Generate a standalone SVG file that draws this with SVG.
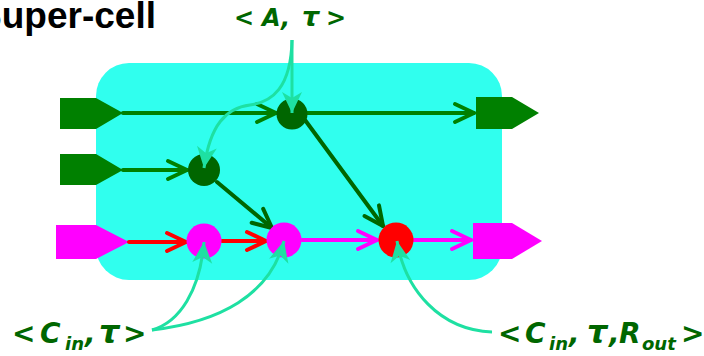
<svg xmlns="http://www.w3.org/2000/svg" width="704" height="356" viewBox="0 0 704 356">
<defs>
<style>
.title{font-family:"Liberation Sans",Arial,sans-serif;font-weight:bold;font-size:37px;fill:#000}
.lbl{font-family:"DejaVu Sans","Liberation Sans",sans-serif;font-weight:bold;font-style:italic;fill:#006600}
.sub{font-size:18px}
.tau{font-size:32px}
.ln{fill:none;stroke-width:4;stroke-linecap:round}
.g{stroke:#008000}
.dg{stroke:#006600}
.r{stroke:#ff0000}
.m{stroke:#ff00ff}
.ann{fill:none;stroke:#1ee0a2;stroke-width:3}
.portG{fill:#008000}
.portM{fill:#ff00ff}
.nodeG{fill:#006600}
.nodeM{fill:#ff00ff}
.nodeR{fill:#ff0000}
</style>
<marker id="vG" viewBox="-24 -14 28 28" markerWidth="28" markerHeight="28" refX="0" refY="0" orient="auto" markerUnits="userSpaceOnUse"><path d="M-19,-9 L0,0 L-19,9" fill="none" stroke="#008000" stroke-width="4" stroke-linecap="round" stroke-linejoin="round"/></marker>
<marker id="vDG" viewBox="-24 -14 28 28" markerWidth="28" markerHeight="28" refX="0" refY="0" orient="auto" markerUnits="userSpaceOnUse"><path d="M-19,-9 L0,0 L-19,9" fill="none" stroke="#006600" stroke-width="4" stroke-linecap="round" stroke-linejoin="round"/></marker>
<marker id="vR" viewBox="-24 -14 28 28" markerWidth="28" markerHeight="28" refX="0" refY="0" orient="auto" markerUnits="userSpaceOnUse"><path d="M-19,-9 L0,0 L-19,9" fill="none" stroke="#ff0000" stroke-width="4" stroke-linecap="round" stroke-linejoin="round"/></marker>
<marker id="vM" viewBox="-24 -14 28 28" markerWidth="28" markerHeight="28" refX="0" refY="0" orient="auto" markerUnits="userSpaceOnUse"><path d="M-19,-9 L0,0 L-19,9" fill="none" stroke="#ff00ff" stroke-width="4" stroke-linecap="round" stroke-linejoin="round"/></marker>
<marker id="aT" viewBox="-24 -12 26 24" markerWidth="26" markerHeight="24" refX="0" refY="0" orient="auto" markerUnits="userSpaceOnUse"><path d="M0,0 L-21,-10 L-15,0 L-21,10 Z" fill="#1ee0a2"/></marker>
</defs>

<text class="title" x="156" y="28" text-anchor="end">Super-cell</text>

<rect id="cell" x="96" y="63" width="406" height="217" rx="33" ry="33" fill="#30ffee"/>

<g id="ports">
<polygon id="in1" class="portG" points="60,98 96,98 123,113 96,129 60,129"/>
<polygon id="in2" class="portG" points="60,154 96,154 123,170 96,185 60,185"/>
<polygon id="in3" class="portM" points="56,225 96,225 129,242 96,259 56,259"/>
<polygon id="out1" class="portG" points="476,97 512,97 539,113 512,129 476,129"/>
<polygon id="out2" class="portM" points="473,223 512,223 542,241 512,259 473,259"/>
</g>

<g id="connectors">
<path class="ln g" d="M123,113 L276,113" marker-end="url(#vG)"/>
<path class="ln g" d="M307,113 L474,113" marker-end="url(#vG)"/>
<path class="ln g" d="M123,170 L187,170" marker-end="url(#vG)"/>
<path class="ln dg" d="M217,182 L272,228" marker-end="url(#vDG)"/>
<path class="ln dg" d="M305,120 L383,226" marker-end="url(#vDG)"/>
<path class="ln r" d="M129,242 L186,242" marker-end="url(#vR)"/>
<path class="ln r" d="M222,241 L266,241" marker-end="url(#vR)"/>
<path class="ln m" d="M302,240 L377,240" marker-end="url(#vM)"/>
<path class="ln m" d="M413,240 L471,240" marker-end="url(#vM)"/>
</g>

<g id="n_top"><circle class="nodeG" cx="292" cy="114" r="15.5"/></g>
<g id="n_mid"><circle class="nodeG" cx="204" cy="170" r="16"/></g>
<g id="n_m1"><circle class="nodeM" cx="204" cy="241" r="17.5"/></g>
<g id="n_m2"><circle class="nodeM" cx="284" cy="240" r="17.5"/></g>
<g id="n_red"><circle class="nodeR" cx="396" cy="240" r="17.5"/></g>

<g id="annotations">
<path class="ann" d="M292,40 L292,113" marker-end="url(#aT)"/>
<path class="ann" d="M292,40 C291,88 272,102 250,105 C226,108 210,125 204,168" marker-end="url(#aT)"/>
<path class="ann" d="M152,330 C180,322 200,290 204,242" marker-end="url(#aT)"/>
<path class="ann" d="M152,330 C220,322 270,295 284,241" marker-end="url(#aT)"/>
<path class="ann" d="M492,332 C440,330 405,290 397,241" marker-end="url(#aT)"/>
</g>

<g id="labels">
<text class="lbl" y="26" font-size="24"><tspan x="234">&lt;</tspan><tspan x="262">A,</tspan><tspan x="302" font-size="27">τ</tspan><tspan x="326">&gt;</tspan></text>
<text class="lbl" y="343" font-size="28"><tspan x="12">&lt;</tspan><tspan x="40">C</tspan><tspan class="sub" x="65" y="350">in</tspan><tspan x="85" y="343">,</tspan><tspan class="tau" x="99">τ</tspan><tspan x="123">&gt;</tspan></text>
<text class="lbl" y="343" font-size="28"><tspan x="498">&lt;</tspan><tspan x="525">C</tspan><tspan class="sub" x="549" y="350">in</tspan><tspan x="569" y="343">,</tspan><tspan class="tau" x="587">τ</tspan><tspan x="609">,</tspan><tspan x="619">R</tspan><tspan class="sub" x="642" y="350">out</tspan><tspan x="681" y="343">&gt;</tspan></text>
</g>
</svg>
